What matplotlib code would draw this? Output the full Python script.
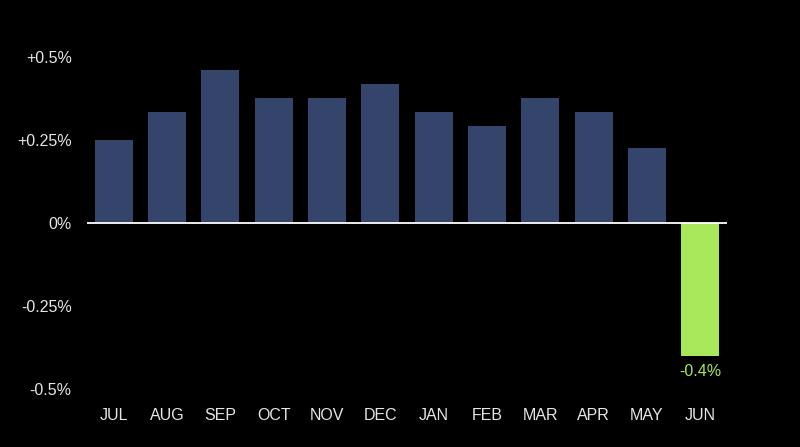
import matplotlib.pyplot as plt
import numpy as np

months = ["JUL", "AUG", "SEP", "OCT", "NOV", "DEC", "JAN", "FEB", "MAR", "APR", "MAY", "JUN"]
changes = [0.25, 0.334, 0.461, 0.376, 0.376, 0.419, 0.334, 0.292, 0.376, 0.334, 0.226, -0.40]
tick_vals = [-0.5, -0.25, 0, 0.25, 0.5]
tick_labels = ["-0.5%", "-0.25%", "0%", "+0.25%", "+0.5%"]

navy = "#34446b"
green = "#a8e85a"
text_col = "#e6e6e6"

plt.rcParams["font.family"] = ["Liberation Sans", "DejaVu Sans"]

fig = plt.figure(figsize=(8, 4.47), dpi=100, facecolor="black")
ax = fig.add_axes([87 / 800, 1 - 389 / 447, 640 / 800, 332 / 447])
ax.set_facecolor("black")

x = np.arange(len(months))
colors = [green if v < 0 else navy for v in changes]
ax.bar(x, changes, width=0.71, color=colors)
ax.axhline(0, color="white", linewidth=1.3, zorder=3)

# label the negative month
last = len(changes) - 1
ax.text(x[last], changes[last] - 0.025, f"{changes[last]:.1f}%", color=green,
        ha="center", va="top", fontsize=11.5)

ax.set_xlim(-0.5, len(months) - 0.5)
ax.set_ylim(-0.5, 0.5)
ax.set_yticks(tick_vals)
ax.set_yticklabels(tick_labels)
ax.set_xticks(x)
ax.set_xticklabels(months)
ax.tick_params(axis="both", length=0, colors=text_col, labelsize=11.5)
ax.tick_params(axis="y", pad=11)
ax.tick_params(axis="x", pad=14)
for s in ax.spines.values():
    s.set_visible(False)

fig.savefig("out.png", dpi=100, facecolor="black")
